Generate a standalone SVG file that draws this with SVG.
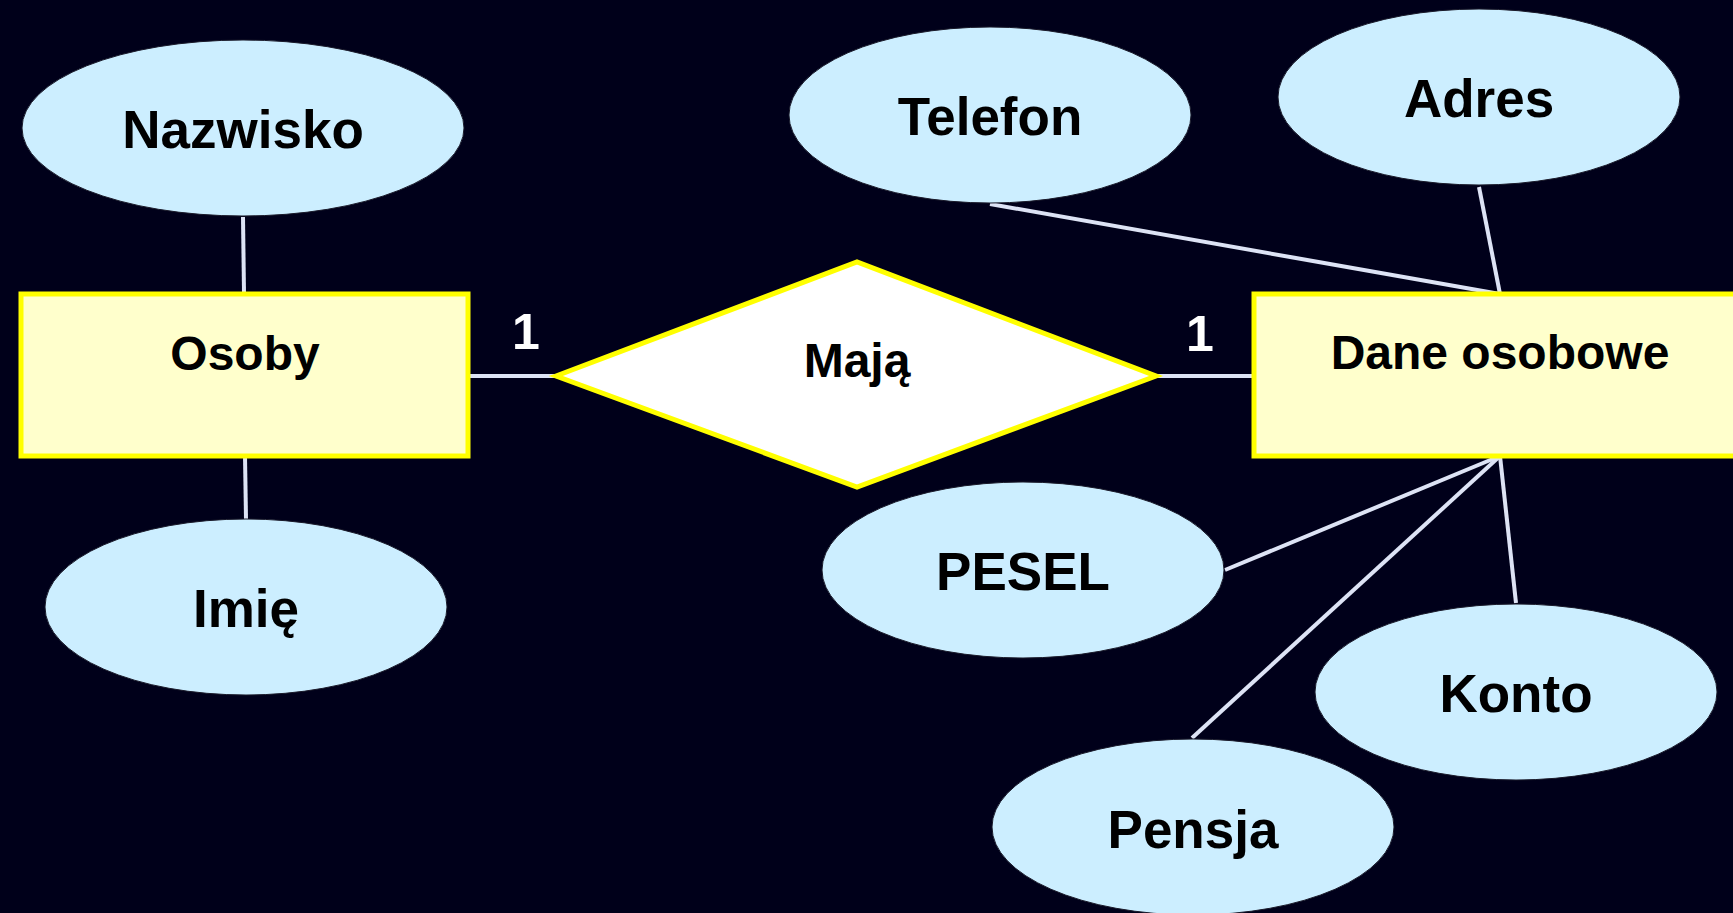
<svg xmlns="http://www.w3.org/2000/svg" width="1733" height="913" viewBox="0 0 1733 913">
<style>
.attr{fill:#cceeff;stroke:#1a1a2a;stroke-width:1}
.ent{fill:#ffffcc;stroke:#ffff00;stroke-width:5}
.rel{fill:#ffffff;stroke:#ffff00;stroke-width:5}
.lbl{font-family:"Liberation Sans",Arial,sans-serif;font-weight:bold;font-size:53px;fill:#000;text-anchor:middle}
.elbl{font-family:"Liberation Sans",Arial,sans-serif;font-weight:bold;font-size:48px;fill:#000;text-anchor:middle}
.card{font-family:"Liberation Sans",Arial,sans-serif;font-weight:bold;font-size:50px;fill:#fff;text-anchor:middle}
.conn line{stroke:#dde3f5;stroke-width:4}
</style>
<rect x="0" y="0" width="1733" height="913" fill="#00001a"/>
<g class="conn" id="connectors">
<line x1="243" y1="217" x2="244" y2="293"/>
<line x1="245" y1="456" x2="246" y2="519"/>
<line x1="469" y1="376" x2="556" y2="376"/>
<line x1="1156" y1="376" x2="1252" y2="376"/>
<line x1="990" y1="204" x2="1500" y2="294"/>
<line x1="1479" y1="187" x2="1500" y2="294"/>
<line x1="1500" y1="456" x2="1225" y2="570"/>
<line x1="1500" y1="456" x2="1192" y2="738"/>
<line x1="1500" y1="456" x2="1516" y2="603"/>
</g>
<g id="nazwisko"><ellipse class="attr" cx="243" cy="128" rx="221" ry="88"/><text class="lbl" x="243" y="148">Nazwisko</text></g>
<g id="osoby"><rect class="ent" x="21" y="294" width="447" height="162"/><text class="elbl" x="245" y="370">Osoby</text></g>
<g id="imie"><ellipse class="attr" cx="246" cy="607" rx="201" ry="88"/><text class="lbl" x="246" y="627">Imię</text></g>
<g id="maja"><polygon class="rel" points="556,376 857,262 1156,376 857,487"/><text class="elbl" x="857" y="377">Mają</text></g>
<g id="card1"><text class="card" x="526" y="349">1</text></g>
<g id="card2"><text class="card" x="1200" y="351">1</text></g>
<g id="dane"><rect class="ent" x="1254" y="294" width="496" height="162"/><text class="elbl" x="1500" y="369">Dane osobowe</text></g>
<g id="telefon"><ellipse class="attr" cx="990" cy="115" rx="201" ry="88"/><text class="lbl" x="990" y="135">Telefon</text></g>
<g id="adres"><ellipse class="attr" cx="1479" cy="97" rx="201" ry="88"/><text class="lbl" x="1479" y="117">Adres</text></g>
<g id="pesel"><ellipse class="attr" cx="1023" cy="570" rx="201" ry="88"/><text class="lbl" x="1023" y="590">PESEL</text></g>
<g id="konto"><ellipse class="attr" cx="1516" cy="692" rx="201" ry="88"/><text class="lbl" x="1516" y="712">Konto</text></g>
<g id="pensja"><ellipse class="attr" cx="1193" cy="827" rx="201" ry="88"/><text class="lbl" x="1193" y="848">Pensja</text></g>
</svg>
